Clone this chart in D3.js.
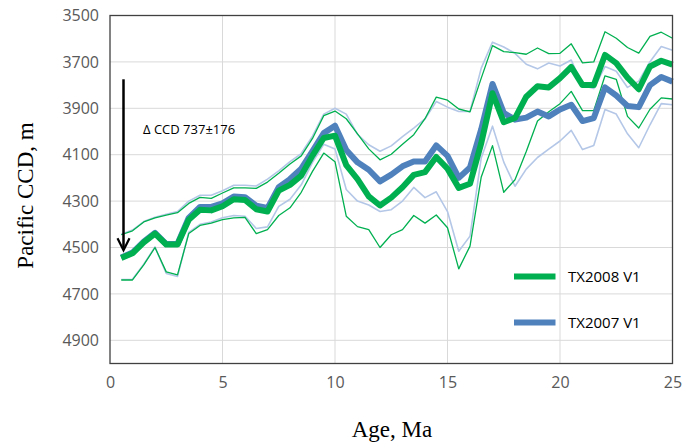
<!DOCTYPE html>
<html>
<head>
<meta charset="utf-8">
<script src="https://cdn.jsdelivr.net/npm/d3@7/dist/d3.min.js"></script>
<style>
body { margin: 0; background: #fff; }
.tick text { font-family: 'Open Sans', sans-serif; font-size: 16px; fill: #595959; }
</style>
</head>
<body>
<div id="chart"></div>
<script>
// ages (Ma) shared by every series
var ages = [0.5, 1, 1.5, 2, 2.5, 3, 3.5, 4, 4.5, 5, 5.5, 6, 6.5, 7, 7.5, 8, 8.5, 9, 9.5, 10,
    10.5, 11, 11.5, 12, 12.5, 13, 13.5, 14, 14.5, 15, 15.5, 16, 16.5, 17, 17.5, 18, 18.5, 19, 19.5, 20,
    20.5, 21, 21.5, 22, 22.5, 23, 23.5, 24, 24.5, 25];

var tx2008 = [4545, 4525, 4478, 4440, 4487, 4487, 4380, 4337, 4340, 4322, 4292, 4295, 4335, 4345, 4255, 4230, 4190, 4104, 4028, 4018,
    4145, 4205, 4280, 4319, 4285, 4240, 4187, 4175, 4110, 4160, 4243, 4225, 4050, 3835, 3960, 3942, 3850, 3805, 3810, 3770,
    3722, 3800, 3800, 3670, 3705, 3768, 3818, 3720, 3695, 3712];
var tx2008Hi = [4445, 4428, 4390, 4372, 4360, 4350, 4310, 4284, 4288, 4265, 4243, 4243, 4245, 4218, 4180, 4140, 4105, 4030, 3932, 3912,
    3945, 4010, 4075, 4122, 4098, 4055, 4014, 3945, 3852, 3865, 3903, 3915, 3770, 3630, 3656, 3660, 3667, 3640, 3664, 3663,
    3622, 3704, 3700, 3570, 3598, 3638, 3662, 3590, 3572, 3598];
var tx2008Lo = [4640, 4640, 4575, 4500, 4605, 4618, 4440, 4405, 4395, 4380, 4372, 4370, 4440, 4423, 4362, 4329, 4262, 4172, 4093, 4130,
    4365, 4410, 4423, 4500, 4445, 4423, 4362, 4395, 4360, 4415, 4592, 4494, 4196, 4061, 4262, 4208, 4086, 3955, 3915, 3880,
    3827, 3910, 3910, 3760, 3775, 3935, 3985, 3904, 3855, 3860];

var tx2007 = [4543, 4522, 4475, 4437, 4485, 4485, 4372, 4325, 4325, 4310, 4280, 4283, 4320, 4330, 4240, 4205, 4160, 4085, 4007, 3975,
    4080, 4133, 4165, 4215, 4186, 4150, 4129, 4129, 4060, 4105, 4200, 4155, 3990, 3795, 3920, 3949, 3940, 3914, 3935, 3905,
    3885, 3955, 3942, 3810, 3845, 3890, 3895, 3800, 3765, 3785];
var tx2007Hi = [4443, 4425, 4388, 4370, 4357, 4345, 4300, 4275, 4275, 4255, 4232, 4232, 4235, 4205, 4170, 4130, 4095, 4020, 3925, 3900,
    3925, 4012, 4057, 4085, 4062, 4022, 3985, 3946, 3871, 3895, 3914, 3914, 3727, 3615, 3636, 3663, 3710, 3730, 3705, 3718,
    3692, 3802, 3815, 3720, 3740, 3810, 3783, 3699, 3634, 3650];
var tx2007Lo = [4638, 4637, 4572, 4498, 4612, 4625, 4435, 4400, 4390, 4372, 4362, 4365, 4418, 4411, 4323, 4292, 4230, 4133, 4055, 4075,
    4250, 4300, 4317, 4345, 4337, 4300, 4241, 4285, 4260, 4345, 4516, 4451, 4114, 3977, 4132, 4236, 4162, 4112, 4076, 4041,
    3995, 4078, 4060, 3905, 3925, 4010, 4070, 3971, 3880, 3885];

var yTicks = [3500, 3700, 3900, 4100, 4300, 4500, 4700, 4900];
var xTicks = [0, 5, 10, 15, 20, 25];

// CCD change arrow
var arrowAge = 0.6, arrowTop = 3775, arrowBottom = 4512;
var noteText = 'Δ CCD 737±176';

var margin = {top: 15.5, right: 20.5, bottom: 79.5, left: 110},
    width = 693 - margin.left - margin.right,
    height = 443 - margin.top - margin.bottom;

var x = d3.scaleLinear()
    .domain([0, 25])
    .range([0, width]);

var y = d3.scaleLinear()
    .domain([3500, 5000])
    .range([0, height]);

var svg = d3.select('#chart').append('svg')
    .attr('width', width + margin.left + margin.right)
    .attr('height', height + margin.top + margin.bottom)
    .append('g')
    .attr('transform', 'translate(' + margin.left + ',' + margin.top + ')');

// grid
svg.selectAll('.hgrid')
    .data(yTicks.slice(1))
    .enter().append('line')
    .attr('x1', 0).attr('x2', width)
    .attr('y1', function(d) { return y(d); })
    .attr('y2', function(d) { return y(d); })
    .attr('stroke', '#d9d9d9')
    .attr('stroke-width', 1);

svg.selectAll('.vgrid')
    .data(xTicks.slice(1, -1))
    .enter().append('line')
    .attr('y1', 0).attr('y2', height)
    .attr('x1', function(d) { return x(d); })
    .attr('x2', function(d) { return x(d); })
    .attr('stroke', '#d9d9d9')
    .attr('stroke-width', 1);

var line = d3.line()
    .x(function(d, i) { return x(ages[i]); })
    .y(function(d) { return y(d); });

var series = [
    {values: tx2007Hi, color: '#b4c7e7', w: 1.6},
    {values: tx2007Lo, color: '#b4c7e7', w: 1.6},
    {values: tx2008Hi, color: '#00b050', w: 1.3},
    {values: tx2008Lo, color: '#00b050', w: 1.3},
    {values: tx2007, color: '#4f81bd', w: 6},
    {values: tx2008, color: '#00b050', w: 6}
];

svg.selectAll('.series')
    .data(series)
    .enter().append('path')
    .attr('class', 'series')
    .attr('fill', 'none')
    .attr('stroke', function(d) { return d.color; })
    .attr('stroke-width', function(d) { return d.w; })
    .attr('stroke-linejoin', 'round')
    .attr('d', function(d) { return line(d.values); });

// border
svg.append('rect')
    .attr('width', width)
    .attr('height', height)
    .attr('fill', 'none')
    .attr('stroke', '#404040')
    .attr('stroke-width', 1.3);

var yAxis = d3.axisLeft(y)
    .tickValues(yTicks)
    .tickSize(0)
    .tickPadding(11)
    .tickFormat(d3.format('d'));

var xAxis = d3.axisBottom(x)
    .tickValues(xTicks)
    .tickSize(0)
    .tickPadding(13);

svg.append('g')
    .attr('class', 'y axis')
    .call(yAxis)
    .select('.domain').remove();

svg.append('g')
    .attr('class', 'x axis')
    .attr('transform', 'translate(0,' + height + ')')
    .call(xAxis)
    .select('.domain').remove();

// arrow
var ax = x(arrowAge);
svg.append('line')
    .attr('x1', ax).attr('x2', ax)
    .attr('y1', y(arrowTop)).attr('y2', y(arrowBottom) - 1)
    .attr('stroke', '#000')
    .attr('stroke-width', 2.5);
svg.append('path')
    .attr('d', 'M' + (ax - 6) + ',' + (y(arrowBottom) - 12) + 'L' + ax + ',' + y(arrowBottom) + 'L' + (ax + 6) + ',' + (y(arrowBottom) - 12))
    .attr('fill', 'none')
    .attr('stroke', '#000')
    .attr('stroke-width', 2.2);

svg.append('text')
    .attr('x', 33)
    .attr('y', 118.5)
    .attr('font-family', 'Open Sans, sans-serif')
    .attr('font-size', '13px')
    .attr('fill', '#000')
    .text(noteText);

// legend
var legend = [
    {name: 'TX2008 V1', color: '#00b050', y: 261},
    {name: 'TX2007 V1', color: '#4f81bd', y: 307}
];

var lg = svg.selectAll('.legend')
    .data(legend)
    .enter().append('g')
    .attr('class', 'legend');

lg.append('line')
    .attr('x1', 404).attr('x2', 445.5)
    .attr('y1', function(d) { return d.y; })
    .attr('y2', function(d) { return d.y; })
    .attr('stroke', function(d) { return d.color; })
    .attr('stroke-width', 6);

lg.append('text')
    .attr('x', 458)
    .attr('y', function(d) { return d.y; })
    .attr('dy', '0.35em')
    .attr('font-family', 'Open Sans, sans-serif')
    .attr('font-size', '15px')
    .attr('fill', '#000')
    .text(function(d) { return d.name; });

// axis titles
svg.append('text')
    .attr('transform', 'translate(' + (33 - margin.left) + ',' + 180 + ') rotate(-90)')
    .attr('text-anchor', 'middle')
    .attr('font-family', 'Liberation Serif, serif')
    .attr('font-size', '23px')
    .attr('fill', '#000')
    .text('Pacific CCD, m');

svg.append('text')
    .attr('x', 392 - margin.left)
    .attr('y', 437 - margin.top)
    .attr('text-anchor', 'middle')
    .attr('font-family', 'Liberation Serif, serif')
    .attr('font-size', '23px')
    .attr('fill', '#000')
    .text('Age, Ma');
</script>
</body>
</html>
